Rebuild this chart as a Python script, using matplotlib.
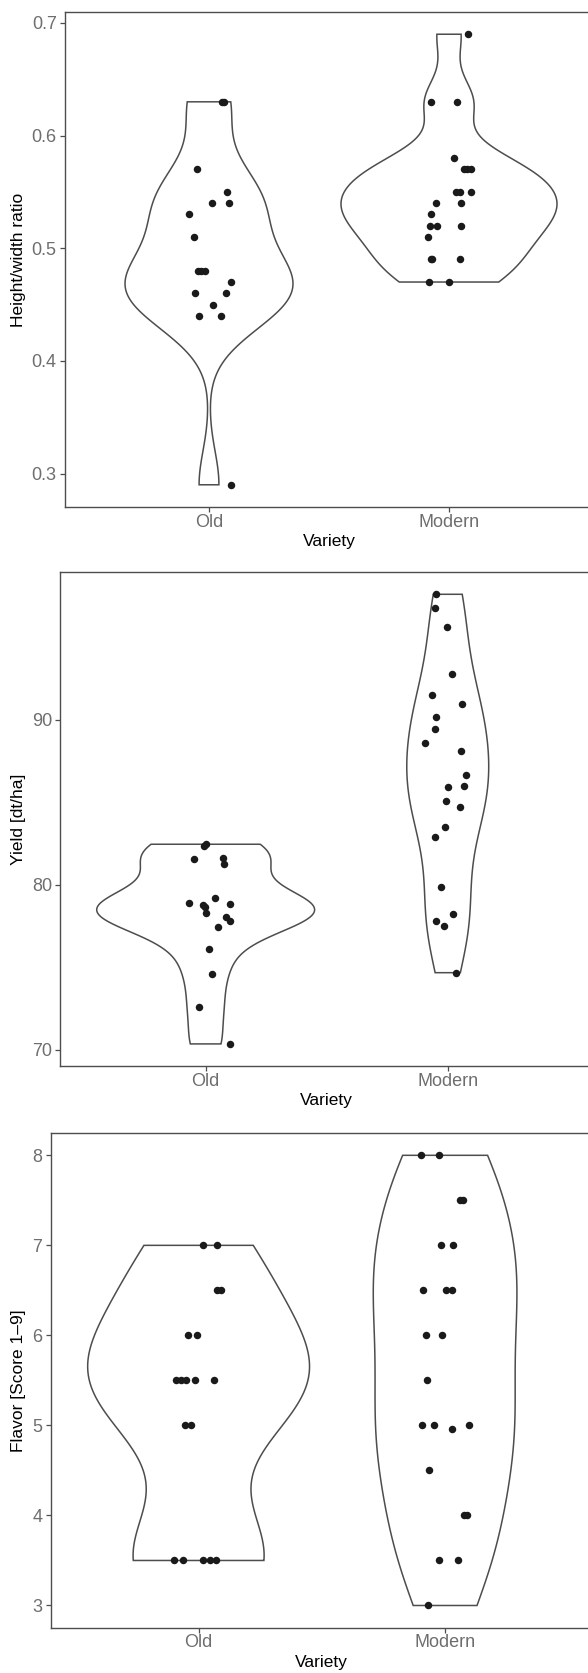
import numpy as np
import matplotlib
matplotlib.use('Agg')
import matplotlib.pyplot as plt
from matplotlib.transforms import blended_transform_factory

plt.rcParams['font.family'] = ['Liberation Sans', 'DejaVu Sans']

# categories
varieties = ['Old', 'Modern']

# height/width ratio (values + horizontal jitter)
old_ratio = [0.63, 0.63, 0.57, 0.55, 0.54, 0.54, 0.53, 0.51, 0.48, 0.48, 0.48,
             0.47, 0.46, 0.46, 0.45, 0.44, 0.44, 0.29]
old_ratio_jit = [0.053, 0.061, -0.048, 0.075, 0.014, 0.083, -0.085, -0.064, -0.047,
                 -0.032, -0.018, 0.092, -0.06, 0.071, 0.018, -0.042, 0.049, 0.090]
modern_ratio = [0.69, 0.63, 0.63, 0.58, 0.57, 0.57, 0.57, 0.55, 0.55, 0.55, 0.54,
                0.54, 0.53, 0.52, 0.52, 0.52, 0.51, 0.49, 0.49, 0.49, 0.47, 0.47]
modern_ratio_jit = [0.080, -0.076, 0.035, 0.021, 0.061, 0.076, 0.090, 0.031, 0.046,
                    0.093, -0.053, 0.052, -0.074, -0.081, -0.051, 0.049, -0.089,
                    -0.076, -0.069, 0.045, -0.083, 0.002]

# yield
old_yield = [82.46, 82.33, 81.58, 81.62, 81.25, 79.22, 78.9, 78.79, 78.66, 78.29,
             78.86, 78.03, 77.78, 77.45, 76.09, 74.6, 72.57, 70.35]
old_yield_jit = [0.002, -0.005, -0.048, 0.070, 0.076, 0.039, -0.068, -0.012, -0.002,
                 0.003, 0.102, 0.084, 0.101, 0.051, 0.012, 0.025, -0.029, 0.102]
modern_yield = [97.62, 96.80, 95.66, 92.81, 91.49, 90.95, 90.15, 89.46, 88.62, 88.14,
                86.67, 85.96, 86.0, 85.08, 84.71, 83.52, 82.87, 79.89, 78.25, 77.82,
                77.52, 74.67]
modern_yield_jit = [-0.050, -0.053, -0.003, 0.016, -0.067, 0.057, -0.048, -0.053,
                    -0.096, 0.056, 0.076, 0.002, 0.068, -0.009, 0.051, -0.011, -0.053,
                    -0.029, 0.022, -0.050, -0.017, 0.033]

# flavor score
old_flavor = [7, 7, 6.5, 6.5, 6, 6, 5.5, 5.5, 5.5, 5.5, 5.5, 5, 5, 3.5, 3.5, 3.5, 3.5, 3.5]
old_flavor_jit = [0.018, 0.074, 0.074, 0.090, -0.042, -0.008, -0.093, -0.072, -0.050,
                  -0.013, 0.061, -0.055, -0.030, -0.101, -0.064, 0.019, 0.045, 0.070]
modern_flavor = [8, 8, 7.5, 7.5, 7, 7, 6.5, 6.5, 6.5, 6, 6, 5.5, 5, 5, 4.96, 5, 4.5,
                 4, 4, 3.5, 3.5, 3]
modern_flavor_jit = [-0.097, -0.024, 0.059, 0.073, -0.017, 0.031, -0.089, 0.003, 0.030,
                     -0.078, -0.012, -0.072, -0.092, -0.047, 0.026, 0.097, -0.065,
                     0.077, 0.090, -0.025, 0.054, -0.068]

panels = [
    ('Height/width ratio', [old_ratio, modern_ratio], [old_ratio_jit, modern_ratio_jit], [0.3, 0.4, 0.5, 0.6, 0.7]),
    ('Yield [dt/ha]', [old_yield, modern_yield], [old_yield_jit, modern_yield_jit], [70, 80, 90]),
    ('Flavor [Score 1\u20139]', [old_flavor, modern_flavor], [old_flavor_jit, modern_flavor_jit], [3, 4, 5, 6, 7, 8]),
]

# panel boxes in pixels: left, top, bottom (right edge runs off the figure)
W, H = 588, 1673
boxes = [(65, 11.7, 507.3), (60.4, 571.8, 1066.4), (50.7, 1132.8, 1628)]
RIGHT = 593

LINE = '#4d4d4d'
TICK = '#6e6e6e'


def nrd0(y):
    y = np.asarray(y, float)
    sd = np.std(y, ddof=1)
    iqr = np.subtract(*np.percentile(y, [75, 25]))
    return 0.9 * min(sd, iqr / 1.34) * len(y) ** (-0.2)


def kde(y, n=512):
    y = np.asarray(y, float)
    bw = nrd0(y)
    grid = np.linspace(y.min(), y.max(), n)
    d = np.exp(-0.5 * ((grid[:, None] - y[None, :]) / bw) ** 2).sum(1)
    d /= len(y) * bw * np.sqrt(2 * np.pi)
    return grid, d


fig = plt.figure(figsize=(W / 100, H / 100), dpi=100)

for (ylab, groups, jits, yticks), (L, T, B) in zip(panels, boxes):
    ax = fig.add_axes([L / W, 1 - B / H, (RIGHT - L) / W, (B - T) / H])
    dens = [kde(g) for g in groups]
    dmax = max(d.max() for _, d in dens)
    for i, (grid, d) in enumerate(dens):
        xc = i + 1
        hw = d / dmax * 0.9 / 2
        ax.fill(np.r_[xc - hw, (xc + hw)[::-1]], np.r_[grid, grid[::-1]],
                facecolor='white', edgecolor=LINE, lw=1.1, zorder=2)
        ax.scatter(xc + np.asarray(jits[i]), groups[i], s=29, color='#1a1a1a',
                   linewidths=0, zorder=3)

    allv = np.concatenate([np.asarray(g, float) for g in groups])
    lo, hi = allv.min(), allv.max()
    pad = (hi - lo) * 0.05
    ax.set_ylim(lo - pad, hi + pad)
    ax.set_xlim(0.4, 2.6)
    ax.set_xticks([1, 2])
    ax.set_xticklabels(varieties)
    ax.set_yticks(yticks)
    ax.set_yticklabels([f'{t:g}' for t in yticks])

    for sp in ax.spines.values():
        sp.set_color(LINE)
        sp.set_linewidth(1.0)
    ax.tick_params(axis='both', colors=LINE, labelcolor=TICK, labelsize=13,
                   length=3.5, width=0.9)
    ax.tick_params(axis='x', pad=1.0)
    ax.tick_params(axis='y', pad=2.5)

    ax.set_ylabel(ylab, fontsize=12.5, color='black')
    ax.yaxis.set_label_coords(26.5 / W, 0.5,
                              transform=blended_transform_factory(fig.transFigure, ax.transAxes))
    ax.set_xlabel('Variety', fontsize=12.5, color='black')
    ax.xaxis.set_label_coords(0.5, 1 - (B + 26.5) / H,
                              transform=blended_transform_factory(ax.transAxes, fig.transFigure))

fig.savefig('out.png', dpi=100)
